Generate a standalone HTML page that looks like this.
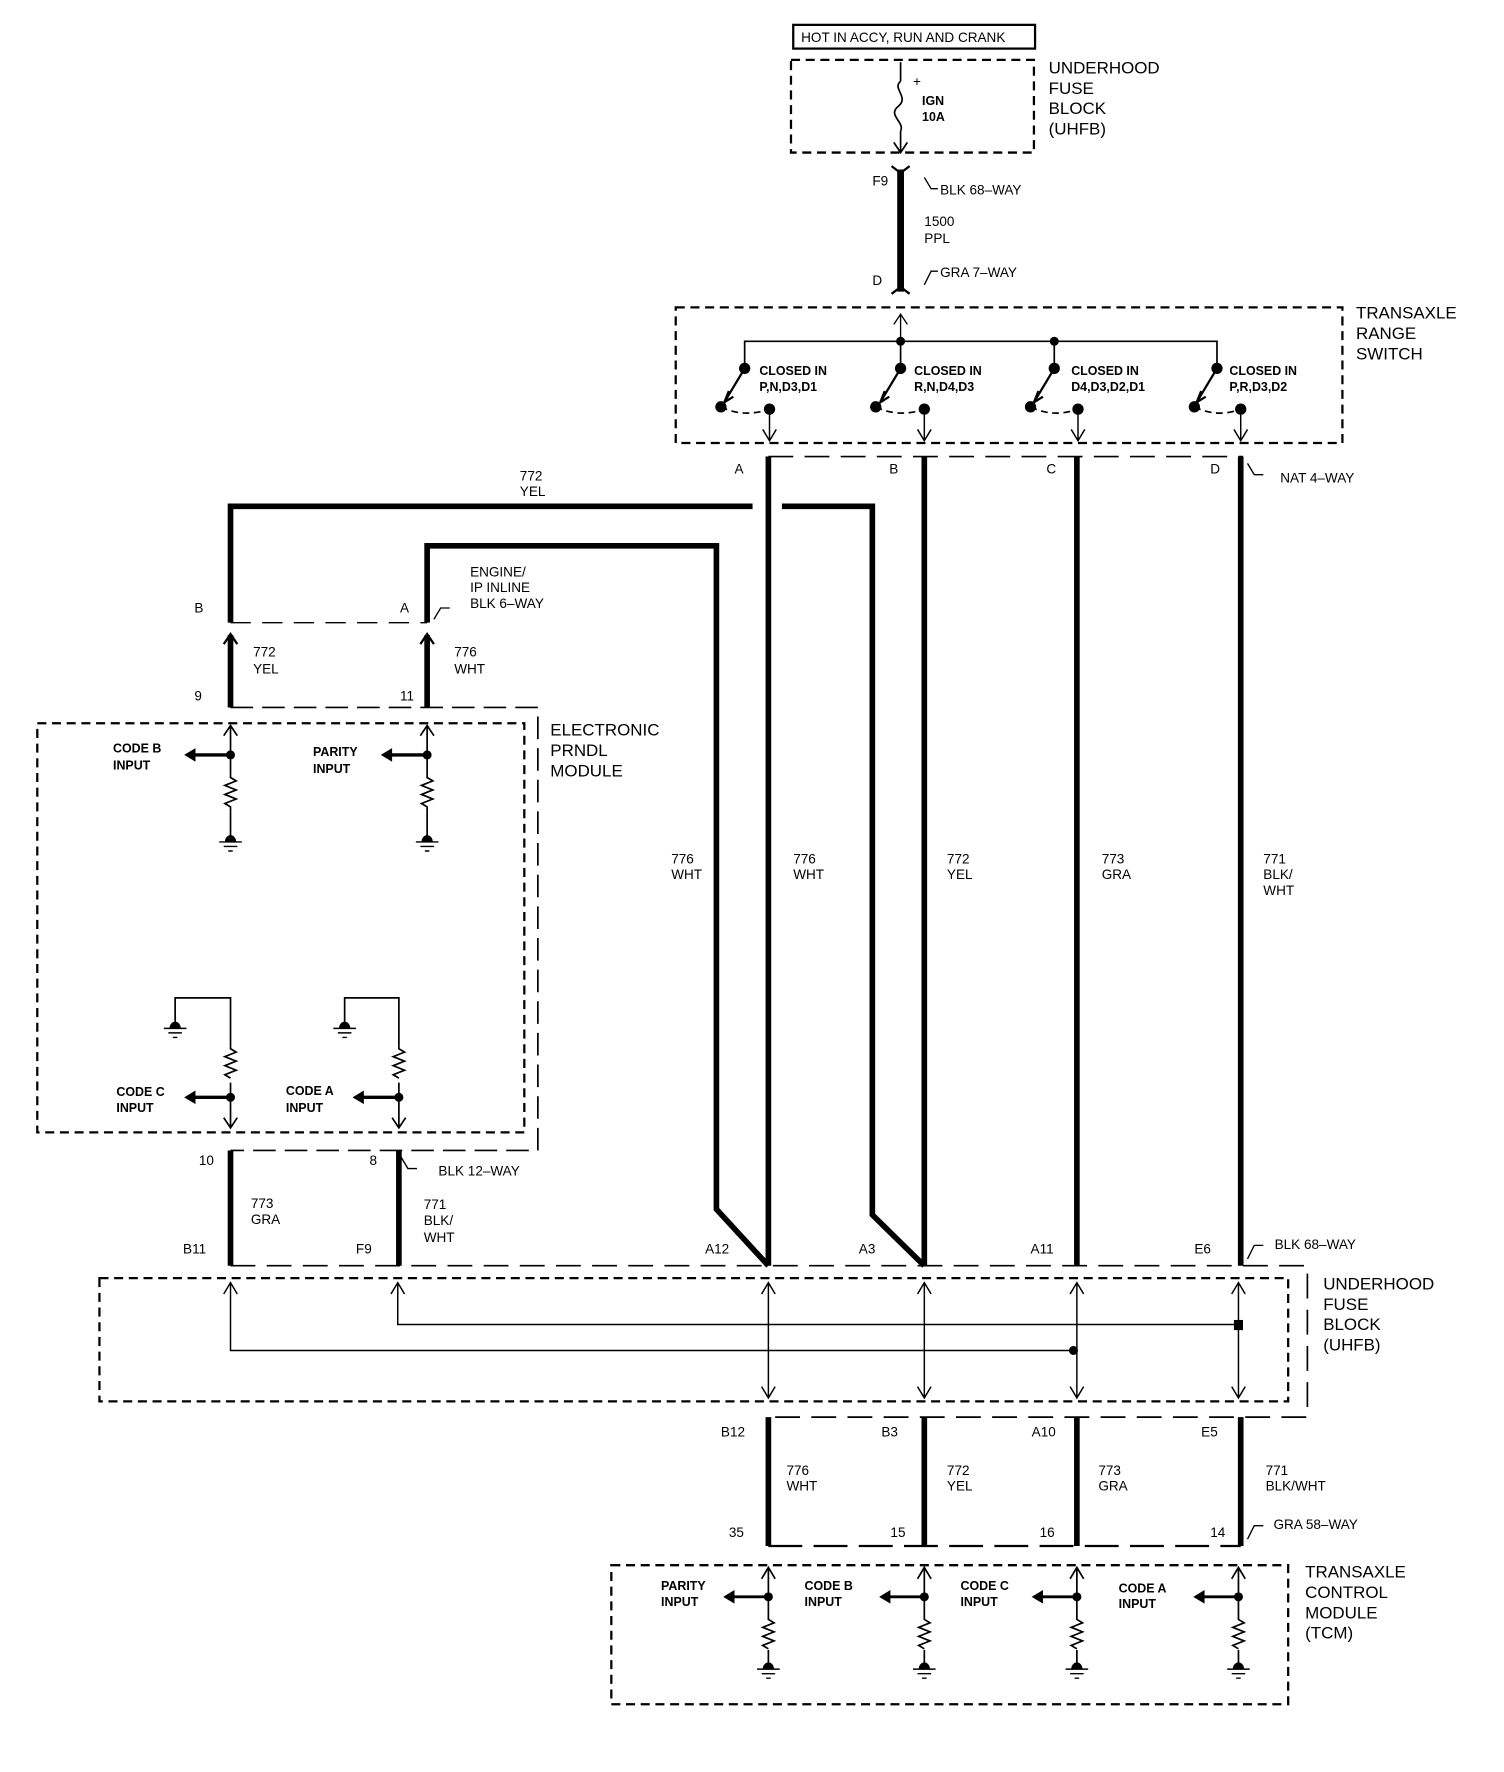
<!DOCTYPE html>
<html><head><meta charset="utf-8"><style>
html,body{margin:0;padding:0;background:#fff}
svg{display:block}
text{font-family:"Liberation Sans",sans-serif;font-size:12px;fill:#000}
.l{font-size:15px}
.s{font-size:11px;font-weight:bold}
</style></head><body>
<svg width="1504" height="1772" viewBox="0 0 1331 1568" preserveAspectRatio="none" xmlns="http://www.w3.org/2000/svg">
<g fill="none" stroke="#000">
<rect x="702" y="22" width="214" height="21" stroke-width="2"/>
<rect x="700" y="53" width="215" height="82" stroke-width="2" stroke-dasharray="8,5"/>
<path d="M797 55 V72 M797 72 c-8 6 8 14 -2 22 c-10 8 6 14 2 22 M797 116 V134 M791 126 l6 9 l6 -9" stroke-width="1.5"/>
<path d="M797 150 V258" stroke-width="6"/>
<path d="M789 147 l8 6 l8 -6 M789 260 l8 -6 l8 6" stroke-width="2"/>
<path d="M818 157 l6 10 h6 M818 252 l6 -12 h6" stroke-width="1.2"/>
<rect x="598" y="272" width="590" height="120" stroke-width="2" stroke-dasharray="8,5"/>
<path d="M797 302 V278 M791 287 l6 -9 l6 9" stroke-width="1.2"/>
<path d="M659 326 V302 H1077 V326 M797 302 V326 M933 302 V326" stroke-width="1.5"/>
<g stroke-width="2">
<path d="M659 326 L641 356 M645 346 l-4 10 l8 -5"/>
<path d="M797 326 L779 356 M783 346 l-4 10 l8 -5"/>
<path d="M933 326 L915 356 M919 346 l-4 10 l8 -5"/>
<path d="M1077 326 L1059 356 M1063 346 l-4 10 l8 -5"/>
</g>
<g stroke-width="1.5" stroke-dasharray="6,4">
<path d="M638 360 q20 10 43 2 M775 360 q20 10 43 2 M912 360 q20 10 42 2 M1057 360 q20 10 41 2"/>
</g>
<path d="M681 362 V390 M675 380 l6 10 l6 -10 M818 362 V390 M812 380 l6 10 l6 -10 M954 362 V390 M948 380 l6 10 l6 -10 M1098 362 V390 M1092 380 l6 10 l6 -10" stroke-width="1.3"/>
<path d="M680 404 H1100" stroke-width="1.5" stroke-dasharray="22,10"/>
<path d="M1104 410 l6 10 h8" stroke-width="1.2"/>
<g stroke-width="5">
<path d="M680 404 V1120 M818 404 V1120 M953 404 V1120 M1098 404 V1120"/>
<path d="M204 551 V448 H666 M692 448 H772 V1075 L818 1120"/>
<path d="M378 551 V483 H634 V1070 L680 1120"/>
<path d="M204 562 V626 M378 562 V626"/>
<path d="M204 1018 V1120 M353 1018 V1120"/>
<path d="M680 1254 V1368 M818 1254 V1368 M953 1254 V1368 M1098 1254 V1368"/>
</g>
<path d="M198 570 l6 -9 l6 9 M372 570 l6 -9 l6 9" stroke-width="2"/>
<path d="M204 551 H378" stroke-width="1.3" stroke-dasharray="18,10"/>
<path d="M384 548 l6 -10 h8" stroke-width="1.2"/>
<path d="M204 626 H476 V1018 H204" stroke-width="1.5" stroke-dasharray="20,8"/>
<rect x="33" y="640" width="431" height="362" stroke-width="2" stroke-dasharray="8,5"/>
<g stroke-width="1.5">
<path d="M204 642 V685 M198 651 l6 -9 l6 9 M204 718 V740"/>
<path d="M204 685 l0 3 l5 3 l-10 4 l10 4 l-10 4 l10 4 l-10 4 l5 3 l0 4"/>
<path d="M378 642 V685 M372 651 l6 -9 l6 9 M378 718 V740"/>
<path d="M378 685 l0 3 l5 3 l-10 4 l10 4 l-10 4 l10 4 l-10 4 l5 3 l0 4"/>
<path d="M155 905 V883 H204 V925 M204 958 V998 M198 989 l6 9 l6 -9"/>
<path d="M204 925 l0 3 l5 3 l-10 4 l10 4 l-10 4 l10 4 l-10 4 l5 3"/>
<path d="M305 905 V883 H353 V925 M353 958 V998 M347 989 l6 9 l6 -9"/>
<path d="M353 925 l0 3 l5 3 l-10 4 l10 4 l-10 4 l10 4 l-10 4 l5 3"/>
</g>
<g stroke-width="3">
<path d="M204 668 H168 M378 668 H342 M204 971 H168 M353 971 H317"/>
</g>
<path d="M355 1024 l6 10 h8" stroke-width="1.2"/>
<path d="M204 1120 H1157 V1254 H680" stroke-width="1.5" stroke-dasharray="22,10"/>
<path d="M1104 1114 l6 -12 h8" stroke-width="1.2"/>
<rect x="88" y="1131" width="1052" height="109" stroke-width="2" stroke-dasharray="8,5"/>
<g stroke-width="1.3">
<path d="M204 1135 V1195 H950 M198 1145 l6 -10 l6 10"/>
<path d="M352 1135 V1172 H1096 M346 1145 l6 -10 l6 10"/>
<path d="M680 1135 V1237 M674 1145 l6 -10 l6 10 M674 1227 l6 10 l6 -10"/>
<path d="M818 1135 V1237 M812 1145 l6 -10 l6 10 M812 1227 l6 10 l6 -10"/>
<path d="M953 1135 V1237 M947 1145 l6 -10 l6 10 M947 1227 l6 10 l6 -10"/>
<path d="M1096 1135 V1237 M1090 1145 l6 -10 l6 10 M1090 1227 l6 10 l6 -10"/>
</g>
<path d="M680 1368 H1098" stroke-width="2" stroke-dasharray="30,10"/>
<path d="M1104 1362 l6 -12 h8" stroke-width="1.2"/>
<rect x="541" y="1385" width="599" height="123" stroke-width="2" stroke-dasharray="8,5"/>
<g stroke-width="1.5">
<path d="M680 1387 V1430 M674 1397 l6 -10 l6 10 M680 1460 V1472 M680 1430 l0 3 l5 3 l-10 4 l10 4 l-10 4 l10 4 l-10 4 l5 3"/>
<path d="M818 1387 V1430 M812 1397 l6 -10 l6 10 M818 1460 V1472 M818 1430 l0 3 l5 3 l-10 4 l10 4 l-10 4 l10 4 l-10 4 l5 3"/>
<path d="M953 1387 V1430 M947 1397 l6 -10 l6 10 M953 1460 V1472 M953 1430 l0 3 l5 3 l-10 4 l10 4 l-10 4 l10 4 l-10 4 l5 3"/>
<path d="M1096 1387 V1430 M1090 1397 l6 -10 l6 10 M1096 1460 V1472 M1096 1430 l0 3 l5 3 l-10 4 l10 4 l-10 4 l10 4 l-10 4 l5 3"/>
</g>
<path d="M680 1413 H645 M818 1413 H783 M953 1413 H918 M1096 1413 H1061" stroke-width="2.5"/>
<g stroke-width="1.3">
<path d="M194 745 h20 M198 749 h12 M202 753 h4 M368 745 h20 M372 749 h12 M376 753 h4"/>
<path d="M145 910 h20 M149 914 h12 M153 918 h4 M295 910 h20 M299 914 h12 M303 918 h4"/>
<path d="M670 1477 h20 M674 1481 h12 M678 1485 h4 M808 1477 h20 M812 1481 h12 M816 1485 h4 M943 1477 h20 M947 1481 h12 M951 1485 h4 M1086 1477 h20 M1090 1481 h12 M1094 1485 h4"/>
</g>
</g>
<g fill="#000">
<circle cx="797" cy="302" r="4"/><circle cx="933" cy="302" r="4"/>
<circle cx="659" cy="326" r="5"/><circle cx="797" cy="326" r="5"/><circle cx="933" cy="326" r="5"/><circle cx="1077" cy="326" r="5"/>
<circle cx="638" cy="360" r="5"/><circle cx="775" cy="360" r="5"/><circle cx="912" cy="360" r="5"/><circle cx="1057" cy="360" r="5"/>
<circle cx="681" cy="362" r="5"/><circle cx="818" cy="362" r="5"/><circle cx="954" cy="362" r="5"/><circle cx="1098" cy="362" r="5"/>
<circle cx="204" cy="668" r="4"/><circle cx="378" cy="668" r="4"/><circle cx="204" cy="971" r="4"/><circle cx="353" cy="971" r="4"/>
<circle cx="950" cy="1195" r="4"/><rect x="1092" y="1168" width="8" height="9"/>
<circle cx="680" cy="1413" r="4"/><circle cx="818" cy="1413" r="4"/><circle cx="953" cy="1413" r="4"/><circle cx="1096" cy="1413" r="4"/>
<path d="M163 668 l10 -6 v12z M337 668 l10 -6 v12z M163 971 l10 -6 v12z M312 971 l10 -6 v12z M640 1413 l10 -6 v12z M778 1413 l10 -6 v12z M913 1413 l10 -6 v12z M1056 1413 l10 -6 v12z"/>
<path d="M199 745 a5 6 0 0 1 10 0z M373 745 a5 6 0 0 1 10 0z M150 910 a5 6 0 0 1 10 0z M300 910 a5 6 0 0 1 10 0z M675 1477 a5 6 0 0 1 10 0z M813 1477 a5 6 0 0 1 10 0z M948 1477 a5 6 0 0 1 10 0z M1091 1477 a5 6 0 0 1 10 0z"/>
</g>
<text x="709" y="37">HOT IN ACCY, RUN AND CRANK</text>
<text class="l" x="928" y="65">UNDERHOOD</text><text class="l" x="928" y="83">FUSE</text><text class="l" x="928" y="101">BLOCK</text><text class="l" x="928" y="119">(UHFB)</text>
<text x="808" y="76">+</text><text class="s" x="816" y="93">IGN</text><text class="s" x="816" y="107">10A</text>
<text x="772" y="164">F9</text><text x="832" y="172">BLK 68–WAY</text>
<text x="818" y="200">1500</text><text x="818" y="215">PPL</text>
<text x="772" y="252">D</text><text x="832" y="245">GRA 7–WAY</text>
<text class="l" x="1200" y="282">TRANSAXLE</text><text class="l" x="1200" y="300">RANGE</text><text class="l" x="1200" y="318">SWITCH</text>
<text class="s" x="672" y="332">CLOSED IN</text><text class="s" x="672" y="346">P,N,D3,D1</text>
<text class="s" x="809" y="332">CLOSED IN</text><text class="s" x="809" y="346">R,N,D4,D3</text>
<text class="s" x="948" y="332">CLOSED IN</text><text class="s" x="948" y="346">D4,D3,D2,D1</text>
<text class="s" x="1088" y="332">CLOSED IN</text><text class="s" x="1088" y="346">P,R,D3,D2</text>
<text x="650" y="419">A</text><text x="787" y="419">B</text><text x="926" y="419">C</text><text x="1071" y="419">D</text><text x="1133" y="427">NAT 4–WAY</text>
<text x="460" y="425">772</text><text x="460" y="439">YEL</text>
<text x="172" y="542">B</text><text x="354" y="542">A</text>
<text x="416" y="510">ENGINE/</text><text x="416" y="524">IP INLINE</text><text x="416" y="538">BLK 6–WAY</text>
<text x="224" y="581">772</text><text x="224" y="596">YEL</text><text x="402" y="581">776</text><text x="402" y="596">WHT</text>
<text x="172" y="620">9</text><text x="354" y="620">11</text>
<text class="l" x="487" y="651">ELECTRONIC</text><text class="l" x="487" y="669">PRNDL</text><text class="l" x="487" y="687">MODULE</text>
<text class="s" x="100" y="666">CODE B</text><text class="s" x="100" y="681">INPUT</text>
<text class="s" x="277" y="669">PARITY</text><text class="s" x="277" y="684">INPUT</text>
<text class="s" x="103" y="970">CODE C</text><text class="s" x="103" y="984">INPUT</text>
<text class="s" x="253" y="969">CODE A</text><text class="s" x="253" y="984">INPUT</text>
<text x="594" y="764">776</text><text x="594" y="778">WHT</text>
<text x="702" y="764">776</text><text x="702" y="778">WHT</text>
<text x="838" y="764">772</text><text x="838" y="778">YEL</text>
<text x="975" y="764">773</text><text x="975" y="778">GRA</text>
<text x="1118" y="764">771</text><text x="1118" y="778">BLK/</text><text x="1118" y="792">WHT</text>
<text x="176" y="1031">10</text><text x="327" y="1031">8</text><text x="388" y="1040">BLK 12–WAY</text>
<text x="222" y="1069">773</text><text x="222" y="1083">GRA</text>
<text x="375" y="1070">771</text><text x="375" y="1084">BLK/</text><text x="375" y="1099">WHT</text>
<text x="162" y="1109">B11</text><text x="315" y="1109">F9</text><text x="624" y="1109">A12</text><text x="760" y="1109">A3</text><text x="912" y="1109">A11</text><text x="1057" y="1109">E6</text>
<text x="1128" y="1105">BLK 68–WAY</text>
<text class="l" x="1171" y="1141">UNDERHOOD</text><text class="l" x="1171" y="1159">FUSE</text><text class="l" x="1171" y="1177">BLOCK</text><text class="l" x="1171" y="1195">(UHFB)</text>
<text x="638" y="1271">B12</text><text x="780" y="1271">B3</text><text x="913" y="1271">A10</text><text x="1063" y="1271">E5</text>
<text x="696" y="1305">776</text><text x="696" y="1319">WHT</text>
<text x="838" y="1305">772</text><text x="838" y="1319">YEL</text>
<text x="972" y="1305">773</text><text x="972" y="1319">GRA</text>
<text x="1120" y="1305">771</text><text x="1120" y="1319">BLK/WHT</text>
<text x="645" y="1360">35</text><text x="788" y="1360">15</text><text x="920" y="1360">16</text><text x="1071" y="1360">14</text>
<text x="1127" y="1353">GRA 58–WAY</text>
<text class="l" x="1155" y="1396">TRANSAXLE</text><text class="l" x="1155" y="1414">CONTROL</text><text class="l" x="1155" y="1432">MODULE</text><text class="l" x="1155" y="1450">(TCM)</text>
<text class="s" x="585" y="1407">PARITY</text><text class="s" x="585" y="1421">INPUT</text>
<text class="s" x="712" y="1407">CODE B</text><text class="s" x="712" y="1421">INPUT</text>
<text class="s" x="850" y="1407">CODE C</text><text class="s" x="850" y="1421">INPUT</text>
<text class="s" x="990" y="1409">CODE A</text><text class="s" x="990" y="1423">INPUT</text>
</svg>
</body></html>
